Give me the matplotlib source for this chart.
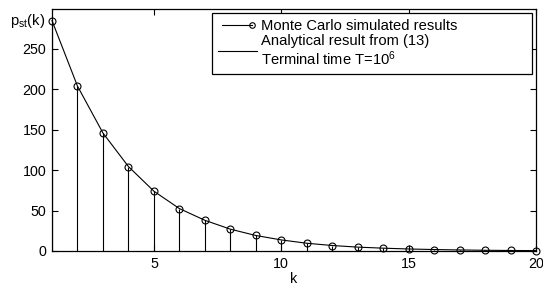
import numpy as np
import matplotlib
matplotlib.use('Agg')
import matplotlib.pyplot as plt
from matplotlib.lines import Line2D
from matplotlib.legend_handler import HandlerLine2D

plt.rcParams['font.family'] = ['Liberation Sans', 'DejaVu Sans']
plt.rcParams['mathtext.fontset'] = 'custom'
plt.rcParams['mathtext.rm'] = 'Liberation Sans'
plt.rcParams['mathtext.it'] = 'Liberation Sans'

# values
k = np.arange(1, 21)
p_mc = [285, 204, 146, 104.5, 74, 52.5, 38, 27, 19.2, 13.7, 9.6, 6.8, 4.8,
        3.5, 2.5, 1.8, 1.3, 0.9, 0.65, 0.45]
p_an = [285, 204, 146, 104.5, 74, 52.5, 38, 27, 19.2, 13.7, 9.6, 6.8, 4.8,
        3.5, 2.5, 1.8, 1.3, 0.9, 0.65, 0.45]
yticks = [0, 50, 100, 150, 200, 250]
xticks = [5, 10, 15, 20]


class MarkerAtEnd(HandlerLine2D):
    # legend line with only the right-hand marker, like the original
    def create_artists(self, *args, **kwargs):
        arts = super().create_artists(*args, **kwargs)
        arts[-1].set_markevery([1])
        return arts


fig = plt.figure(figsize=(5.43, 2.86), dpi=100)
ax = fig.add_axes([52 / 543, 1 - 251 / 286, 484 / 543, 242.5 / 286])

ax.vlines(k, 0, p_an, color='black', lw=0.8)
ax.plot(k, p_mc, '-o', color='black', lw=0.8, ms=5, mfc='none', mew=0.8,
        clip_on=False, zorder=3)

ax.set_xlim(1, 20)
ax.set_ylim(0, 300)
ax.set_xticks(xticks)
ax.set_yticks(yticks)
ax.tick_params(direction='in', top=True, right=True, length=4, width=0.8,
               labelsize=10.3, pad=4)
for s in ax.spines.values():
    s.set_linewidth(0.9)

ax.set_xlabel('k', fontsize=10.3, labelpad=1)
fig.text(10 / 543, 1 - 25 / 286, r'p$_{\mathrm{st}}$(k)', fontsize=10.6,
         ha='left', va='baseline')

h1 = Line2D([0, 1], [0, 0], color='black', lw=0.8, marker='o', ms=4,
            mfc='none', mew=0.8)
h2 = Line2D([0, 1], [0, 0], color='black', lw=0.8)
leg = ax.legend([h1, h2],
                ['Monte Carlo simulated results',
                 'Analytical result from (13)\nTerminal time T=10$^6$'],
                handler_map={h1: MarkerAtEnd(numpoints=2)},
                loc='upper left', mode='expand',
                bbox_to_anchor=(212 / 543, 1 - 74 / 286, 320 / 543, 61 / 286),
                bbox_transform=fig.transFigure, fontsize=10.6,
                frameon=True, fancybox=False, framealpha=1, edgecolor='black',
                handlelength=2.65, handletextpad=0.3,
                borderpad=0.4, labelspacing=0.1, borderaxespad=0)
leg.get_frame().set_linewidth(0.9)
leg.get_texts()[1].set_linespacing(1.05)

fig.savefig('out.png', dpi=100)
